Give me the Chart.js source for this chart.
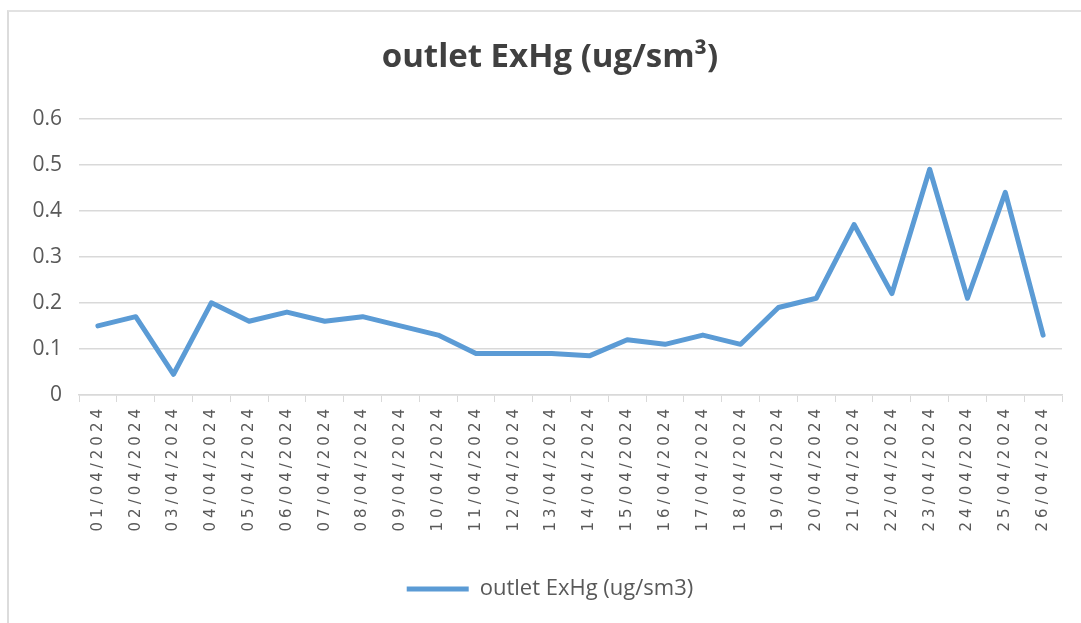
<!DOCTYPE html>
<html>
<head>
<meta charset="utf-8">
<script src="https://cdn.jsdelivr.net/npm/chart.js@4.4.1/dist/chart.umd.min.js"></script>
<style>
  html, body { margin: 0; padding: 0; background: #ffffff; overflow: hidden; }
  #frame {
    position: absolute; left: 7px; top: 10px; width: 1100px; height: 700px;
    border-left: 2px solid #dcdcdc; border-top: 2px solid #e2e2e2;
  }
  #wrap { position: absolute; left: 0; top: 0; width: 1081px; height: 623px; }
</style>
</head>
<body>
<div id="frame"></div>
<div id="wrap"><canvas id="exhgChart" width="1081" height="623"></canvas></div>
<script>
// Data
const dates = [
  '01/04/2024', '02/04/2024', '03/04/2024', '04/04/2024', '05/04/2024', '06/04/2024',
  '07/04/2024', '08/04/2024', '09/04/2024', '10/04/2024', '11/04/2024', '12/04/2024',
  '13/04/2024', '14/04/2024', '15/04/2024', '16/04/2024', '17/04/2024', '18/04/2024',
  '19/04/2024', '20/04/2024', '21/04/2024', '22/04/2024', '23/04/2024', '24/04/2024',
  '25/04/2024', '26/04/2024'
];
const exhgValues = [
  0.15, 0.17, 0.045, 0.20, 0.16, 0.18,
  0.16, 0.17, 0.15, 0.13, 0.09, 0.09,
  0.09, 0.085, 0.12, 0.11, 0.13, 0.11,
  0.19, 0.21, 0.37, 0.22, 0.49, 0.21,
  0.44, 0.13
];
const yTickValues = [0, 0.1, 0.2, 0.3, 0.4, 0.5, 0.6];
const seriesName = 'outlet ExHg (ug/sm3)';
const chartTitle = 'outlet ExHg (ug/sm\u00B3)';

const lineBlue = '#5B9BD5';
const gridGrey = '#d9d9d9';
const textGrey = '#595959';

// spread out the rotated date labels a bit, like the original
const xLabelSpacing = {
  id: 'xLabelSpacing',
  beforeDraw(chart) {
    const x = chart.scales.x;
    if (x._spaced) return;
    const orig = x.drawLabels.bind(x);
    x.drawLabels = function (area) {
      const ctx = this.ctx;
      ctx.save();
      ctx.letterSpacing = '4px';
      orig(area);
      ctx.restore();
    };
    x._spaced = true;
  }
};

// title and legend sit a little right of the canvas centre in the original
const shiftHeaderFooter = {
  id: 'shiftHeaderFooter',
  afterLayout(chart) {
    if (chart.titleBlock) chart.titleBlock.left = 38;
    if (chart.legend) chart.legend.left = 38;
  }
};

function startApp() {
  const ctx = document.getElementById('exhgChart').getContext('2d');

  new Chart(ctx, {
    type: 'line',
    data: {
      labels: dates,
      datasets: [{
        label: seriesName,
        data: exhgValues,
        borderColor: lineBlue,
        backgroundColor: lineBlue,
        borderWidth: 5,
        pointRadius: 0,
        pointHoverRadius: 0,
        tension: 0,
        borderJoinStyle: 'round',
        borderCapStyle: 'round'
      }]
    },
    options: {
      responsive: false,
      animation: false,
      layout: { padding: { left: 0, right: 19, top: 0, bottom: 13 } },
      plugins: {
        title: {
          display: true,
          text: chartTitle,
          color: '#404040',
          font: { family: 'Open Sans', size: 33, weight: 'bold', lineHeight: 1.2 },
          padding: { top: 38, bottom: 41 }
        },
        legend: {
          position: 'bottom',
          labels: {
            color: textGrey,
            font: { family: 'Open Sans', size: 22 },
            boxWidth: 62,
            boxHeight: 5,
            padding: 10,
            generateLabels: (chart) => {
              const items = Chart.defaults.plugins.legend.labels.generateLabels(chart);
              items.forEach(it => { it.lineWidth = 0; it.fillStyle = lineBlue; });
              return items;
            }
          }
        },
        tooltip: { enabled: false }
      },
      scales: {
        x: {
          offset: true,
          grid: {
            offset: true,
            drawOnChartArea: false,
            drawTicks: true,
            tickLength: 7,
            color: gridGrey
          },
          border: { display: true, color: gridGrey, width: 1.5 },
          ticks: {
            autoSkip: false,
            minRotation: 90,
            maxRotation: 90,
            padding: 3,
            color: textGrey,
            font: { family: 'DejaVu Sans', size: 15 }
          },
          afterFit: (scale) => { scale.height = 173; }
        },
        y: {
          min: 0,
          max: 0.6,
          grid: { color: gridGrey, lineWidth: 1.5, drawTicks: false },
          border: { display: false },
          afterBuildTicks: (scale) => { scale.ticks = yTickValues.map(v => ({ value: v })); },
          ticks: {
            padding: 17,
            color: textGrey,
            font: { family: 'Open Sans', size: 21 },
            callback: (v) => String(Math.round(v * 10) / 10)
          },
          afterFit: (scale) => { scale.width = 79; }
        }
      }
    },
    plugins: [xLabelSpacing, shiftHeaderFooter]
  });
}

window.onload = startApp;
</script>
</body>
</html>
